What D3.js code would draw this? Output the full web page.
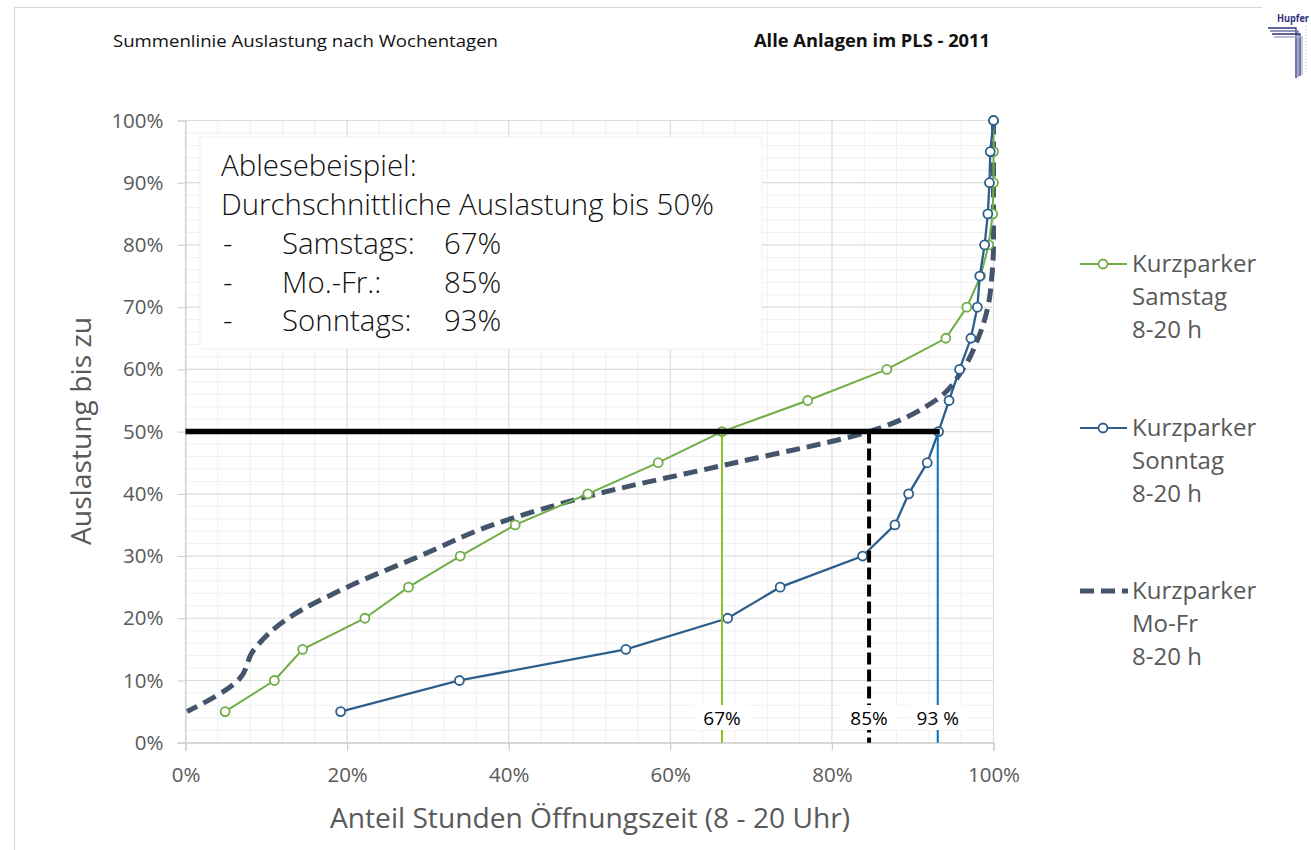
<!DOCTYPE html>
<html><head><meta charset="utf-8">
<script src="https://cdn.jsdelivr.net/npm/d3@7"></script>
<style>html,body{margin:0;padding:0;background:#fff;}svg{display:block;}</style>
</head><body>
<svg id="chart" width="1311" height="850"></svg>
<script>
// ---------- DATA ----------
const levels = [5,10,15,20,25,30,35,40,45,50,55,60,65,70,75,80,85,90,95,100]; // Auslastung bis zu (%)
const samstagX = [4.9,11.0,14.5,22.2,27.6,34.0,40.8,49.8,58.5,66.4,77.0,86.8,94.1,96.7,98.4,99.4,99.9,100,100,100];
const sonntagX = [19.2,33.9,54.5,67.1,73.6,83.8,87.8,89.5,91.8,93.2,94.5,95.8,97.2,98.0,98.3,98.9,99.3,99.5,99.6,100];
const mofrX    = [0.2,6.5,8.5,12.7,20.0,29.0,38.0,51.0,68.0,84.6,92.8,96.2,98.1,99.3,99.8,100,100,100,100,100];
const xTicks = [0,20,40,60,80,100];
const yTicks = [0,10,20,30,40,50,60,70,80,90,100];
const refLevel = 50;
const refX = [66.4, 84.6, 93.1];
const refLabels = ["67%", "85%", "93 %"];
const legendLabels = [["Kurzparker","Samstag","8-20 h"],["Kurzparker","Sonntag","8-20 h"],["Kurzparker","Mo-Fr","8-20 h"]];
const noteLines = ["Ablesebeispiel:", "Durchschnittliche Auslastung bis 50%"];
const noteDays = ["Samstags:", "Mo.-Fr.:", "Sonntags:"];
const noteVals = ["67%", "85%", "93%"];
const title = "Summenlinie Auslastung nach Wochentagen";
const subtitle = "Alle Anlagen im PLS - 2011";
const xTitle = "Anteil Stunden Öffnungszeit (8 - 20 Uhr)";
const yTitle = "Auslastung bis zu";

// ---------- SETUP ----------
const svg = d3.select("#chart");
const FONT = "'Open Sans', 'Noto Sans', sans-serif";
const C_SAT = "#70AD47", C_SUN = "#2C5F8D", C_MOFR = "#44546A";
const x = d3.scaleLinear().domain([0,100]).range([185.5, 993.5]);
const y = d3.scaleLinear().domain([0,100]).range([742.7, 120.5]);

function txt(g, px, py, s, o) {
  const t = g.append("text").attr("x", px).attr("y", py).text(s)
    .attr("font-family", o.family || FONT).attr("font-size", o.size)
    .attr("font-weight", o.weight || 400).attr("fill", o.fill || "#000")
    .attr("text-anchor", o.anchor || "start");
  if (o.width) t.attr("textLength", o.width).attr("lengthAdjust", "spacingAndGlyphs");
  if (o.transform) t.attr("transform", o.transform);
  return t;
}

svg.append("rect").attr("width",1311).attr("height",850).attr("fill","#fff");

// page frame
svg.append("line").attr("x1",14).attr("x2",1262).attr("y1",7.5).attr("y2",7.5).attr("stroke","#d9d9d9").attr("stroke-width",1.2);
svg.append("line").attr("x1",14.5).attr("x2",14.5).attr("y1",7).attr("y2",850).attr("stroke","#d9d9d9").attr("stroke-width",1.2);

// logo
const logo = svg.append("g");
txt(logo, 1277, 22, "Hupfer", {size: 10, weight: 700, fill: "#2E3180", width: 32});
[["#2E3180",28],["#6f73a8",31],["#2E3180",34],["#a9abc9",37]].forEach((d,i) => {
  logo.append("path").attr("d", `M${1268+i*2},${d[1]} H${1296+i*2} V${78-i*1}`)
    .attr("fill","none").attr("stroke",d[0]).attr("stroke-width",1.3);
});
logo.append("line").attr("x1",1306).attr("x2",1306).attr("y1",26).attr("y2",72).attr("stroke","#b9bbd3").attr("stroke-width",1).attr("stroke-dasharray","1,2");

// titles
txt(svg, 113, 47, title, {size: 17, fill: "#111", width: 385});
txt(svg, 754, 47, subtitle, {size: 17, weight: 700, fill: "#111", width: 236});

// ---------- GRID ----------
const grid = svg.append("g");
d3.range(2,100,2).filter(v => v % 10 !== 0).forEach(v => {
  grid.append("line").attr("x1", x(0)).attr("x2", x(100)).attr("y1", y(v)).attr("y2", y(v))
    .attr("stroke", "#f0f0f0").attr("stroke-width", 1);
});
d3.range(4,100,4).filter(v => v % 20 !== 0).forEach(v => {
  grid.append("line").attr("x1", x(v)).attr("x2", x(v)).attr("y1", y(0)).attr("y2", y(100))
    .attr("stroke", "#f0f0f0").attr("stroke-width", 1);
});
yTicks.forEach(v => grid.append("line").attr("x1", x(0)).attr("x2", x(100)).attr("y1", y(v)).attr("y2", y(v))
  .attr("stroke", "#dcdcdc").attr("stroke-width", 1.2));
xTicks.forEach(v => grid.append("line").attr("x1", x(v)).attr("x2", x(v)).attr("y1", y(0)).attr("y2", y(100))
  .attr("stroke", "#dcdcdc").attr("stroke-width", 1.2));

// ---------- AXES ----------
const yAxis = svg.append("g").attr("transform", `translate(${x(0)},0)`)
  .call(d3.axisLeft(y).tickValues(yTicks).tickFormat(d => d + "%").tickSize(8).tickPadding(14));
const xAxis = svg.append("g").attr("transform", `translate(0,${y(0)})`)
  .call(d3.axisBottom(x).tickValues(xTicks).tickFormat(d => d + "%").tickSize(8).tickPadding(17));
[yAxis, xAxis].forEach(a => {
  a.select(".domain").attr("stroke", "#d0d0d0").attr("stroke-width", 1.2);
  a.selectAll(".tick line").attr("stroke", "#d0d0d0").attr("stroke-width", 1.2);
  a.selectAll(".tick text").attr("fill", "#595959").attr("font-family", FONT).attr("font-size", 20.5);
});

txt(svg, 590, 828, xTitle, {size: 27, fill: "#595959", anchor: "middle", width: 520});
txt(svg, 0, 0, yTitle, {size: 27, fill: "#595959", anchor: "middle", width: 228, transform: "translate(91,431) rotate(-90)"});

// ---------- NOTE BOX ----------
const note = svg.append("g");
note.append("rect").attr("x", 200).attr("y", 137).attr("width", 562).attr("height", 212)
  .attr("fill", "#fff").attr("stroke", "#efefef").attr("stroke-width", 1);
let NS = {size: 28, weight: 300, fill: "#111"};
// fit font size so the longest line spans the same width as in the reference
const probe = txt(note, 221, 215, noteLines[1], NS);
const natural = probe.node().getComputedTextLength();
NS.size = Math.max(20, Math.min(34, NS.size * 493 / natural));
probe.attr("font-size", NS.size);
txt(note, 221, 176, noteLines[0], NS);
noteDays.forEach((d, i) => {
  const by = 254 + i * 38.5;
  txt(note, 223, by, "-", NS);
  txt(note, 282, by, d, NS);
  txt(note, 444, by, noteVals[i], NS);
});

// ---------- SERIES ----------
const toPts = xs => xs.map((v, i) => [v, levels[i]]);
const lineLin = d3.line().x(d => x(d[0])).y(d => y(d[1]));
const lineSmooth = d3.line().x(d => x(d[0])).y(d => y(d[1])).curve(d3.curveMonotoneY);

svg.append("path").attr("d", lineSmooth(toPts(mofrX).reverse())).attr("fill", "none")
  .attr("stroke", C_MOFR).attr("stroke-width", 5).attr("stroke-dasharray", "14,7");

[[samstagX, C_SAT, 2], [sonntagX, C_SUN, 2.3]].forEach(([xs, col, w]) => {
  const g = svg.append("g");
  g.append("path").attr("d", lineLin(toPts(xs))).attr("fill", "none").attr("stroke", col).attr("stroke-width", w);
  g.selectAll("circle").data(toPts(xs)).join("circle")
    .attr("cx", d => x(d[0])).attr("cy", d => y(d[1])).attr("r", 4.5)
    .attr("fill", "#fff").attr("stroke", col).attr("stroke-width", 1.8);
});

// ---------- REFERENCE LINES ----------
const ref = svg.append("g");
ref.append("line").attr("x1", x(refX[0])).attr("x2", x(refX[0])).attr("y1", y(refLevel)).attr("y2", y(0))
  .attr("stroke", "#8FC31F").attr("stroke-width", 2);
ref.append("line").attr("x1", x(refX[1])).attr("x2", x(refX[1])).attr("y1", y(refLevel)).attr("y2", y(0))
  .attr("stroke", "#000").attr("stroke-width", 4).attr("stroke-dasharray", "12,5");
ref.append("line").attr("x1", x(refX[2])).attr("x2", x(refX[2])).attr("y1", y(refLevel)).attr("y2", y(0))
  .attr("stroke", "#0070C0").attr("stroke-width", 2);
ref.append("line").attr("x1", x(0)).attr("x2", x(refX[2]) + 2).attr("y1", y(refLevel)).attr("y2", y(refLevel))
  .attr("stroke", "#000").attr("stroke-width", 5.5);

const labW = [54, 56, 56];
refLabels.forEach((s, i) => {
  const cx = x(refX[i]);
  ref.append("rect").attr("x", cx - labW[i]/2).attr("y", 705).attr("width", labW[i]).attr("height", 25).attr("fill", "#fff");
  txt(ref, cx, 725, s, {size: 19, fill: "#000", anchor: "middle"});
});

// ---------- LEGEND ----------
const leg = svg.append("g");
const legY = [264, 428, 591];
const legCol = [C_SAT, C_SUN, C_MOFR];
legY.forEach((ly, i) => {
  if (i < 2) {
    leg.append("line").attr("x1", 1080).attr("x2", 1127).attr("y1", ly).attr("y2", ly).attr("stroke", legCol[i]).attr("stroke-width", 2.2);
    leg.append("circle").attr("cx", 1103).attr("cy", ly).attr("r", 4.5).attr("fill", "#fff").attr("stroke", legCol[i]).attr("stroke-width", 1.8);
  } else {
    leg.append("line").attr("x1", 1080).attr("x2", 1128).attr("y1", ly).attr("y2", ly).attr("stroke", legCol[i]).attr("stroke-width", 5).attr("stroke-dasharray", "14,7");
  }
  legendLabels[i].forEach((s, j) => {
    txt(leg, 1132, ly + 8 + j * 33, s, {size: 24, fill: "#595959"});
  });
});
</script>
</body></html>
